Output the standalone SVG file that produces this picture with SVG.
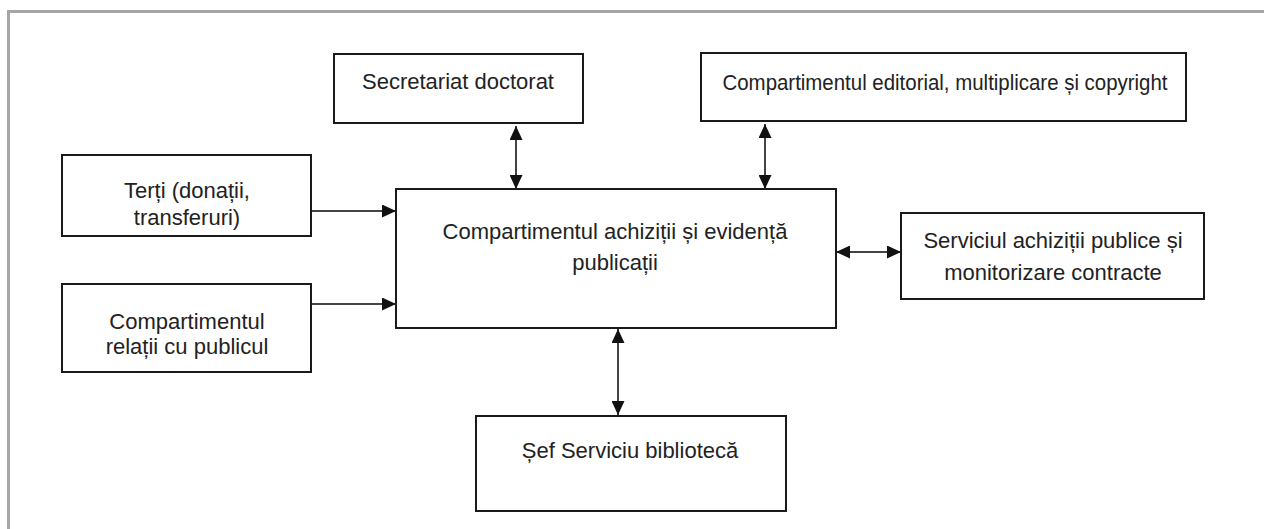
<svg xmlns="http://www.w3.org/2000/svg" width="1264" height="529" viewBox="0 0 1264 529">
<style>
.box{fill:#fff;stroke:#1a1a1a;stroke-width:2}
.t{font-family:"Liberation Sans",Arial,sans-serif;font-size:22px;fill:#222;text-anchor:middle}
.c{stroke:#444;stroke-width:2;fill:none}
</style>
<defs>
<marker id="ah" markerUnits="userSpaceOnUse" markerWidth="14" markerHeight="13" refX="14" refY="6.5" orient="auto-start-reverse">
<path d="M0,0 L14,6.5 L0,13 z" fill="#111"/>
</marker>
</defs>
<rect x="0" y="0" width="1264" height="529" fill="#fff"/>
<rect x="8.5" y="11.5" width="1300" height="600" fill="none" stroke="#a6a6a6" stroke-width="3"/>
<g id="connectors">
<line class="c" x1="516" y1="126" x2="516" y2="189" marker-start="url(#ah)" marker-end="url(#ah)"/>
<line class="c" x1="765" y1="124" x2="765" y2="189" marker-start="url(#ah)" marker-end="url(#ah)"/>
<line class="c" x1="311" y1="211" x2="396" y2="211" marker-end="url(#ah)"/>
<line class="c" x1="311" y1="304" x2="396" y2="304" marker-end="url(#ah)"/>
<line class="c" x1="836" y1="252" x2="901" y2="252" marker-start="url(#ah)" marker-end="url(#ah)"/>
<line class="c" x1="618" y1="329" x2="618" y2="415" marker-start="url(#ah)" marker-end="url(#ah)"/>
</g>
<g id="secretariat">
<rect class="box" x="334" y="54" width="249" height="69"/>
<text class="t" x="458" y="89">Secretariat doctorat</text>
</g>
<g id="editorial">
<rect class="box" x="701" y="53" width="485" height="68"/>
<text class="t" x="945" y="90" textLength="445" lengthAdjust="spacingAndGlyphs">Compartimentul editorial, multiplicare și copyright</text>
</g>
<g id="terti">
<rect class="box" x="62" y="155" width="249" height="81"/>
<text class="t" x="187" y="198">Terți (donații,</text>
<text class="t" x="187" y="225">transferuri)</text>
</g>
<g id="relatii">
<rect class="box" x="62" y="284" width="249" height="88"/>
<text class="t" x="187" y="329">Compartimentul</text>
<text class="t" x="187" y="354">relații cu publicul</text>
</g>
<g id="central">
<rect class="box" x="396" y="189" width="440" height="139"/>
<text class="t" x="615" y="239">Compartimentul achiziții și evidență</text>
<text class="t" x="615" y="270">publicații</text>
</g>
<g id="serviciul">
<rect class="box" x="901" y="213" width="303" height="86"/>
<text class="t" x="1053" y="248">Serviciul achiziții publice și</text>
<text class="t" x="1053" y="280">monitorizare contracte</text>
</g>
<g id="sef">
<rect class="box" x="476" y="416" width="310" height="95"/>
<text class="t" x="630" y="458">Șef Serviciu bibliotecă</text>
</g>
</svg>
